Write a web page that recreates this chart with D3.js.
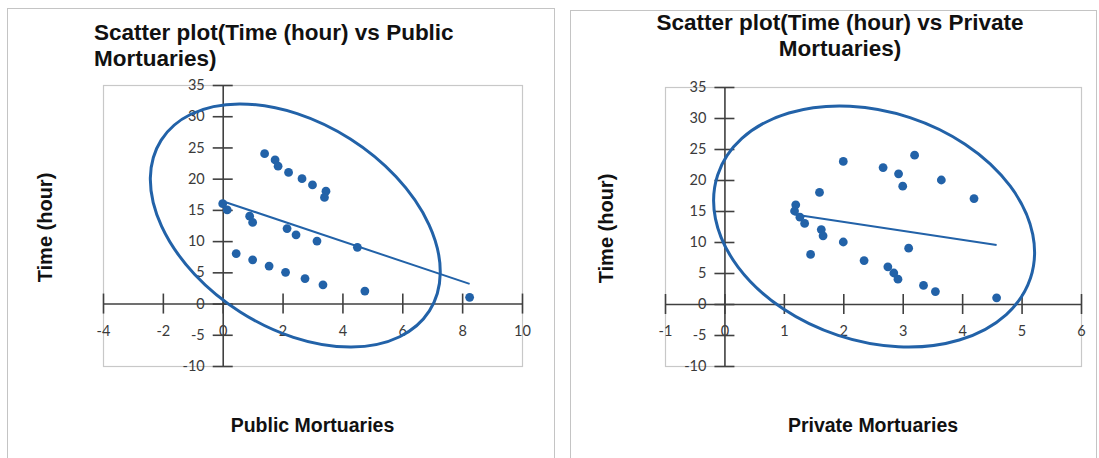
<!DOCTYPE html>
<html>
<head>
<meta charset="utf-8">
<script src="https://cdn.jsdelivr.net/npm/d3@7"></script>
<style>
  html, body { margin: 0; padding: 0; background: #fff; }
  svg { display: block; }
</style>
</head>
<body>
<svg id="chart" width="1099" height="458"></svg>
<script>
// Public mortuaries: distance value and recorded time (hour)
const publicX    = [1.4, 1.75, 1.85, 2.2, 2.65, 3.0, 3.45, 3.4, 0, 0.15, 0.9, 1.0,
                    2.15, 2.45, 3.15, 4.5, 0.45, 1.0, 1.55, 2.1, 2.75, 3.35, 4.75, 8.25];
const publicTime = [24, 23, 22, 21, 20, 19, 18, 17, 16, 15, 14, 13,
                    12, 11, 10, 9, 8, 7, 6, 5, 4, 3, 2, 1];

// Private mortuaries
const privateX    = [2.0, 1.6, 1.2, 1.18, 1.27, 1.35, 3.2, 2.67, 2.93, 3.0, 3.65, 4.2,
                     1.63, 1.66, 2.0, 3.1, 1.45, 2.35, 2.75, 2.85, 2.92, 3.35, 3.55, 4.58];
const privateTime = [23, 18, 16, 15, 14, 13, 24, 22, 21, 19, 20, 17,
                     12, 11, 10, 9, 8, 7, 6, 5, 4, 3, 2, 1];

// Tick labels
const publicXTicks  = [-4, -2, 0, 2, 4, 6, 8, 10];
const privateXTicks = [-1, 0, 1, 2, 3, 4, 5, 6];
const timeTicks     = [-10, -5, 0, 5, 10, 15, 20, 25, 30, 35];

const BLUE = "#2262a8";
const AXIS = "#404040";
const plain = d => String(d);   // "-5" with an ordinary hyphen, no decimals

const svg = d3.select("#chart");

function linearFit(xs, ys) {
  const mx = d3.mean(xs), my = d3.mean(ys);
  let sxy = 0, sxx = 0;
  xs.forEach((x, i) => { sxy += (x - mx) * (ys[i] - my); sxx += (x - mx) * (x - mx); });
  const slope = sxy / sxx;
  return { slope, intercept: my - slope * mx };
}

function drawPanel(opt) {
  const g = svg.append("g");

  // panel frame
  g.append("rect")
    .attr("x", opt.frame[0] + 0.5).attr("y", opt.frame[1] + 0.5)
    .attr("width", opt.frame[2]).attr("height", opt.frame[3])
    .attr("fill", "#fff").attr("stroke", "#c4c4c4").attr("stroke-width", 1);

  // title
  const title = g.append("text")
    .attr("font-family", "Liberation Sans, Arial, sans-serif")
    .attr("font-weight", "bold").attr("font-size", 22.5).attr("fill", "#111")
    .attr("text-anchor", opt.titleAnchor);
  opt.title.forEach((line, i) => {
    title.append("tspan").attr("x", opt.titleX).attr("y", opt.titleY + i * 26).text(line);
  });

  const p = opt.plot; // [left, top, right, bottom]
  const x = d3.scaleLinear().domain(d3.extent(opt.xTicks)).range([p[0], p[2]]);
  const y = d3.scaleLinear().domain(d3.extent(timeTicks)).range([p[3], p[1]]);

  // plot area border
  g.append("rect")
    .attr("x", p[0] + 0.5).attr("y", p[1] + 0.5)
    .attr("width", p[2] - p[0]).attr("height", p[3] - p[1])
    .attr("fill", "none").attr("stroke", "#c8c8c8").attr("stroke-width", 1.2);

  // axes crossing at zero
  const xAxis = d3.axisBottom(x).tickValues(opt.xTicks).tickFormat(plain)
    .tickSize(10).tickSizeOuter(0).tickPadding(9);
  const gx = g.append("g").attr("transform", `translate(0,${y(0)})`).call(xAxis);
  gx.selectAll(".tick line").attr("y1", -10).attr("y2", 10);
  gx.selectAll(".tick text").attr("dy", "0.9em");

  const yAxis = d3.axisLeft(y).tickValues(timeTicks).tickFormat(plain)
    .tickSize(10).tickSizeOuter(0).tickPadding(8);
  const gy = g.append("g").attr("transform", `translate(${x(0)},0)`).call(yAxis);
  gy.selectAll(".tick line").attr("x1", -10).attr("x2", 10);

  [gx, gy].forEach(a => {
    a.select(".domain").attr("stroke", AXIS).attr("stroke-width", 1.6);
    a.selectAll(".tick line").attr("stroke", AXIS).attr("stroke-width", 1.6);
    a.selectAll(".tick text")
      .attr("font-family", "Lato, 'Open Sans', sans-serif")
      .attr("font-size", 14.5).attr("fill", "#3a3a3a");
  });

  // confidence-style ellipse centred on the data mean
  const cx = x(d3.mean(opt.xs)), cy = y(d3.mean(opt.ys));
  g.append("ellipse")
    .attr("cx", 0).attr("cy", 0)
    .attr("rx", opt.ellipse.rx).attr("ry", opt.ellipse.ry)
    .attr("transform", `translate(${cx},${cy}) rotate(${opt.ellipse.angle})`)
    .attr("fill", "none").attr("stroke", BLUE).attr("stroke-width", 3);

  // linear trendline over the data range
  const fit = linearFit(opt.xs, opt.ys);
  const [x0, x1] = d3.extent(opt.xs);
  g.append("line")
    .attr("x1", x(x0)).attr("y1", y(fit.intercept + fit.slope * x0))
    .attr("x2", x(x1)).attr("y2", y(fit.intercept + fit.slope * x1))
    .attr("stroke", BLUE).attr("stroke-width", 2);

  // points
  g.append("g").selectAll("circle")
    .data(opt.xs.map((v, i) => [v, opt.ys[i]]))
    .join("circle")
    .attr("cx", d => x(d[0])).attr("cy", d => y(d[1]))
    .attr("r", 4.4).attr("fill", BLUE);

  // axis titles
  g.append("text")
    .attr("x", (p[0] + p[2]) / 2).attr("y", 432)
    .attr("text-anchor", "middle")
    .attr("font-family", "Liberation Sans, Arial, sans-serif")
    .attr("font-weight", "bold").attr("font-size", 19.5).attr("fill", "#111")
    .text(opt.xTitle);

  g.append("text")
    .attr("transform", `translate(${opt.yTitleX},${(p[1] + p[3]) / 2 + 2}) rotate(-90)`)
    .attr("text-anchor", "middle")
    .attr("font-family", "Liberation Sans, Arial, sans-serif")
    .attr("font-weight", "bold").attr("font-size", 20).attr("fill", "#111")
    .text("Time (hour)");
}

drawPanel({
  frame: [7, 8, 547, 470],
  title: ["Scatter plot(Time (hour) vs Public", "Mortuaries)"],
  titleX: 94, titleY: 40, titleAnchor: "start",
  plot: [103, 85, 522, 366],
  xTicks: publicXTicks,
  xs: publicX, ys: publicTime,
  ellipse: { rx: 159, ry: 102.5, angle: 32.5 },
  xTitle: "Public Mortuaries",
  yTitleX: 52
});

drawPanel({
  frame: [570, 10, 526, 470],
  title: ["Scatter plot(Time (hour) vs Private", "Mortuaries)"],
  titleX: 840, titleY: 30, titleAnchor: "middle",
  plot: [665, 87, 1081, 366],
  xTicks: privateXTicks,
  xs: privateX, ys: privateTime,
  ellipse: { rx: 164.7, ry: 114.7, angle: 18.25 },
  xTitle: "Private Mortuaries",
  yTitleX: 613
});
</script>
</body>
</html>
